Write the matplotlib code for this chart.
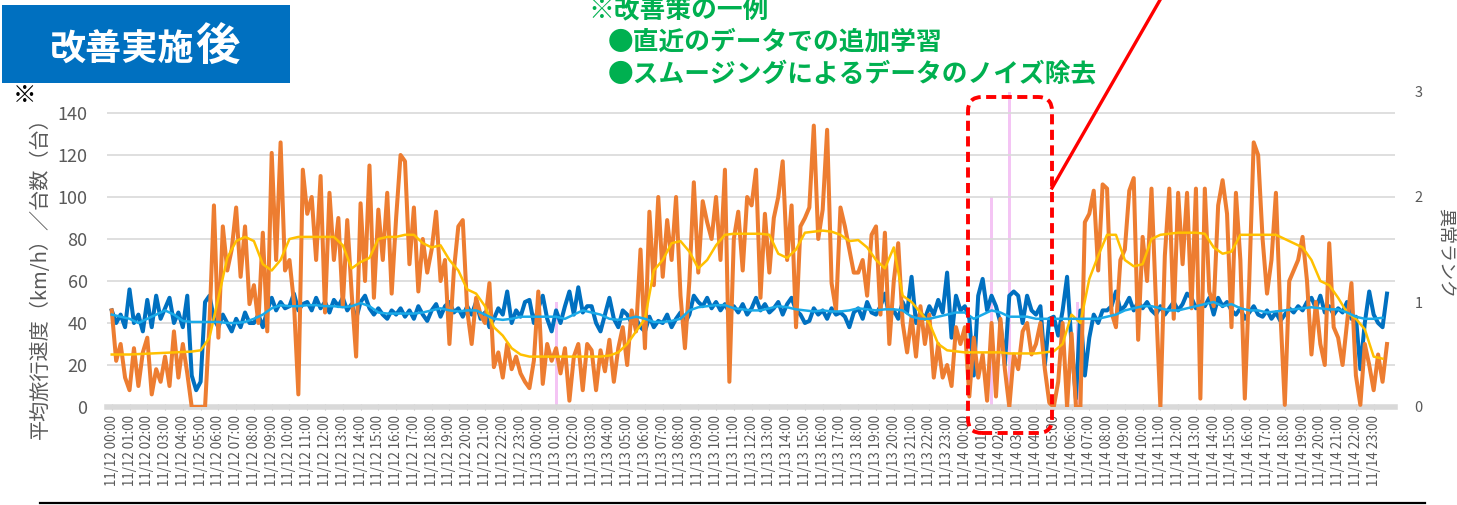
import numpy as np
import pandas as pd
import matplotlib
matplotlib.use('Agg')
import matplotlib.pyplot as plt
import matplotlib.dates as mdates
from matplotlib.patches import FancyBboxPatch, Rectangle
from matplotlib.lines import Line2D

plt.rcParams['font.family'] = ['Noto Sans CJK JP', 'DejaVu Sans']

# traffic count (veh), 15 min steps from 11/12 00:00, one row = one hour
count_raw = [
    46, 22, 30, 14,   8, 28, 10, 26,   33, 6, 18, 12,   24, 10, 36, 14,
    30, 16, 0, 0,     0, 0, 40, 96,    33, 86, 65, 75,  95, 62, 86, 49,
    58, 40, 83, 36,   121, 70, 126, 65, 70, 50, 6, 113, 92, 100, 70, 110,
    45, 102, 70, 90,  48, 89, 54, 24,  97, 60, 115, 52, 94, 70, 102, 54,
    90, 120, 117, 68, 95, 55, 80, 64,  75, 93, 60, 70,  30, 65, 86, 89,
    46, 30, 52, 44,   40, 59, 19, 26,  14, 30, 18, 24,  16, 12, 9, 22,
    # 11/13
    55, 11, 30, 22,   28, 16, 28, 3,   24, 30, 8, 30,   27, 8, 27, 17,
    32, 12, 28, 38,   20, 46, 36, 75,  28, 93, 58, 100, 62, 89, 70, 100,
    53, 28, 60, 107,  64, 98, 88, 80,  100, 70, 113, 12, 80, 93, 65, 100,
    96, 113, 52, 92,  64, 90, 100, 117, 70, 96, 38, 86, 90, 95, 134, 80,
    94, 132, 59, 46,  95, 86, 75, 64,  64, 70, 53, 82,  86, 44, 83, 30,
    60, 78, 40, 26,   43, 24, 48, 30,  44, 14, 30, 14,  20, 10, 38, 30,
    # 11/14
    38, 5, 33, 14,    25, 3, 40, 5,    42, 18, 0, 25,   18, 36, 40, 25,
    30, 40, 18, 2,    0, 12, 40, 0,    35, 0, 0, 88,    92, 103, 65, 106,
    104, 45, 38, 70,  75, 103, 109, 32, 81, 60, 104, 50, 0, 72, 104, 42,
    102, 68, 102, 47, 104, 4, 104, 55, 48, 96, 108, 92, 38, 102, 70, 4,
    60, 126, 120, 80, 54, 70, 102, 45, 1, 60, 65, 70,  81, 60, 25, 50,
    30, 20, 78, 38,   33, 20, 40, 59,  15, 1, 30, 20,   8, 25, 12, 30,
]

# average travel speed (km/h), 15 min steps
speed_raw = [
    46, 40, 44, 38,   56, 40, 44, 36,  51, 38, 53, 42,  47, 52, 40, 45,
    38, 53, 15, 8,    12, 50, 53, 42,  38, 44, 40, 36,  42, 38, 45, 40,
    40, 44, 38, 46,   52, 46, 50, 47,  48, 54, 46, 49,  50, 46, 52, 47,
    50, 45, 51, 48,   52, 46, 49, 42,  50, 53, 47, 44,  47, 44, 42, 46,
    44, 47, 43, 46,   42, 48, 44, 41,  46, 49, 43, 48,  50, 45, 47, 43,
    48, 44, 50, 42,   45, 38, 42, 47,  44, 55, 40, 46,  43, 50, 51, 40,
    # 11/13
    47, 53, 42, 36,   46, 40, 48, 55,  44, 57, 45, 48,  48, 40, 36, 44,
    52, 42, 38, 46,   44, 40, 42, 38,  36, 43, 38, 41,  40, 44, 38, 42,
    45, 40, 44, 53,   50, 48, 52, 47,  50, 46, 49, 45,  48, 45, 49, 44,
    47, 52, 46, 49,   45, 47, 50, 44,  49, 52, 46, 44,  40, 41, 47, 44,
    46, 42, 47, 44,   45, 43, 38, 45,  47, 42, 50, 45,  44, 48, 54, 43,
    46, 42, 50, 45,   62, 40, 45, 42,  48, 44, 51, 45,  64, 33, 53, 46,
    # 11/14
    48, 42, 15, 53,   61, 46, 53, 48,  40, 20, 53, 55,  53, 40, 53, 46,
    44, 48, 20, 42,   43, 34, 46, 62,  30, 4, 46, 15,   33, 44, 40, 46,
    46, 48, 55, 46,   48, 52, 46, 50,  47, 50, 46, 44,  48, 44, 47, 50,
    46, 49, 54, 52,   47, 50, 48, 52,  44, 52, 48, 50,  46, 44, 47, 42,
    45, 48, 44, 43,   46, 42, 45, 41,  44, 47, 45, 48,  46, 50, 52, 47,
    53, 45, 48, 44,   47, 45, 50, 42,  43, 18, 40, 55,  44, 40, 38, 54,
]

# smoothed series, 30 min steps
count_smooth = [
    25, 25, 25, 25.2, 25.4, 25.6, 25.8, 26, 26.2, 26.4, 27, 33,
    52, 71, 79, 81, 79, 68, 65, 70, 80, 81, 81, 81,
    81, 81, 77, 66, 69, 71, 80, 81, 81, 82, 82, 78,
    76, 77, 70, 65, 56, 54, 48, 38, 34, 28, 25, 24,
    24, 24, 24, 24, 24, 24, 24, 24, 24.5, 26, 30, 36,
    42, 65, 70, 78, 79, 74, 66, 70, 77, 82, 82.5, 82.5,
    82.5, 82.5, 82, 73, 71, 75, 83, 83.5, 84, 83.5, 82, 79,
    79.5, 76, 70, 66, 76, 53, 50, 45, 40, 30, 27, 26.5,
    26, 26, 26, 26, 26, 25.5, 25.5, 25.5, 25.5, 26, 26.5, 30,
    44, 40, 61, 72, 82, 82, 70, 67, 68, 80, 82, 82.5,
    83, 83, 83, 82.5, 76, 73, 74, 82, 82, 82, 82, 82,
    80, 78, 76, 70, 60, 58, 52, 45, 42, 37, 24, 23,
]

speed_smooth = [
    44, 43, 42, 40, 42, 44, 46, 44, 41, 40.5, 40.5, 40.5,
    40.5, 40, 40, 40.5, 42, 44, 47, 48.5, 48, 48, 48.5, 48.5,
    48, 48, 47.5, 48, 49.5, 48, 45, 44.5, 44.5, 44.5, 44.5, 45,
    46, 47, 46, 45.5, 46, 46, 44, 42, 41.5, 42, 43, 43,
    43, 43, 43, 42, 44, 46, 45, 44, 42, 41.5, 42, 43,
    42, 40.5, 40.5, 41, 42, 46, 47.5, 48, 48.5, 48.5, 47, 46.5,
    46, 46, 47, 48, 47.5, 46.5, 46, 45.5, 46, 45.5, 45.5, 46,
    47, 46.5, 46, 46.5, 46.5, 46, 43, 42, 42, 43, 44, 45,
    45, 42, 44, 46, 45, 43, 43, 43, 42, 42, 42, 42,
    42, 42, 42, 42, 43, 44, 46, 47, 48, 48, 47, 46,
    46, 47, 48, 49, 50, 48, 49, 47, 46, 46, 45, 45.5,
    46, 46.5, 47, 47.5, 47, 46.5, 46.5, 45, 43, 42, 42, 42.5,
]

# anomaly rank (right axis)
anomaly_times = ['2019-11-13 01:00', '2019-11-14 01:30', '2019-11-14 02:30', '2019-11-14 06:20']
anomaly_rank = [1, 2, 3, 1]

t15 = pd.date_range('2019-11-12 00:00', periods=len(count_raw), freq='15min')
t30 = pd.date_range('2019-11-12 00:00', periods=len(count_smooth), freq='30min')
t_anom = pd.to_datetime(anomaly_times)
hours = pd.date_range('2019-11-12 00:00', periods=72, freq='h')

fig = plt.figure(figsize=(14.57, 5.05), dpi=100)
ax = fig.add_axes([107 / 1457, 98 / 505, 1288 / 1457, 315 / 505])
ax2 = ax.twinx()
ax.set_zorder(ax2.get_zorder() + 1)
ax.patch.set_visible(False)

ax2.bar(t_anom, anomaly_rank, width=0.007, color='#F4C4F4', zorder=1)

ax.plot(t15, speed_raw, color='#0070C0', lw=2.9, zorder=3)
ax.plot(t15, count_raw, color='#ED7D31', lw=2.9, zorder=4)
ax.plot(t30, count_smooth, color='#FFC000', lw=1.8, zorder=5)
ax.plot(t30, speed_smooth, color='#1AAAE8', lw=1.8, zorder=6)

start = hours[0]
ax.set_xlim(start - pd.Timedelta(minutes=16), start + pd.Timedelta(hours=72, minutes=12))
ax.set_ylim(0, 150)
ax2.set_ylim(0, 3)

ax.set_yticks(np.arange(0, 141, 20))
ax.grid(axis='y', color='#D9D9D9', lw=1.2)
ax.set_axisbelow(True)
ax.tick_params(axis='y', length=0, pad=14, labelsize=13, labelcolor='#595959')
ax2.set_yticks([0, 1, 2, 3])
ax2.tick_params(axis='y', length=0, pad=14, labelsize=10.5, labelcolor='#595959')

ax.set_xticks(hours)
ax.xaxis.set_major_formatter(mdates.DateFormatter('%m/%d %H:%M'))
ax.tick_params(axis='x', rotation=90, labelsize=9.6, labelcolor='#595959',
               length=4, color='#BFBFBF', direction='inout', pad=4)

for a in (ax, ax2):
    for s in ('top', 'left', 'right'):
        a.spines[s].set_visible(False)
ax.spines['bottom'].set_color('#D9D9D9')
ax.spines['bottom'].set_linewidth(4)
ax2.spines['bottom'].set_visible(False)

fig.text(40 / 1457, 0.46, '平均旅行速度（km/h）／台数（台）', rotation=90,
         ha='center', va='center', fontsize=14.5, color='#595959')
fig.text(1445 / 1457, 0.5, '異常ランク', rotation=-90,
         ha='center', va='center', fontsize=13, color='#595959')

tr = fig.dpi_scale_trans
fig.text(0.13, 4.10, '※', transform=tr, ha='left', va='center',
         fontsize=17, color='black')

# header box
fig.patches.append(Rectangle((0.02, 4.22), 2.88, 0.78, transform=tr,
                             facecolor='#0070C0', edgecolor='none'))
fig.text(0.50, 4.55, '改善実施', transform=tr, ha='left', va='center',
         fontsize=26, color='white', fontweight='bold')
fig.text(1.95, 4.57, '後', transform=tr, ha='left', va='center',
         fontsize=32, color='white', fontweight='bold')

# green notes
green = '#00B050'
fig.text(5.88, 4.95, '※改善策の一例', transform=tr, ha='left', va='center',
         fontsize=18.5, color=green, fontweight='bold')
fig.text(6.08, 4.63, '●直近のデータでの追加学習', transform=tr, ha='left', va='center',
         fontsize=18.5, color=green, fontweight='bold')
fig.text(6.08, 4.31, '●スムージングによるデータのノイズ除去', transform=tr, ha='left',
         va='center', fontsize=18.5, color=green, fontweight='bold')

# red highlight
fig.patches.append(FancyBboxPatch((9.68, 0.72), 0.84, 3.36, transform=tr,
                                  boxstyle='round,pad=0,rounding_size=0.14',
                                  facecolor='none', edgecolor='#FF0000',
                                  lw=2.8, linestyle=(0, (2.6, 1.4)), zorder=10))
fig.lines.append(Line2D([10.52, 11.60], [3.17, 5.05], transform=tr,
                        color='#FF0000', lw=2.4, zorder=10))

# bottom rule
fig.lines.append(Line2D([0.40, 14.25], [0.02, 0.02], transform=tr,
                        color='black', lw=1.6))

fig.savefig('out.png', dpi=100)
